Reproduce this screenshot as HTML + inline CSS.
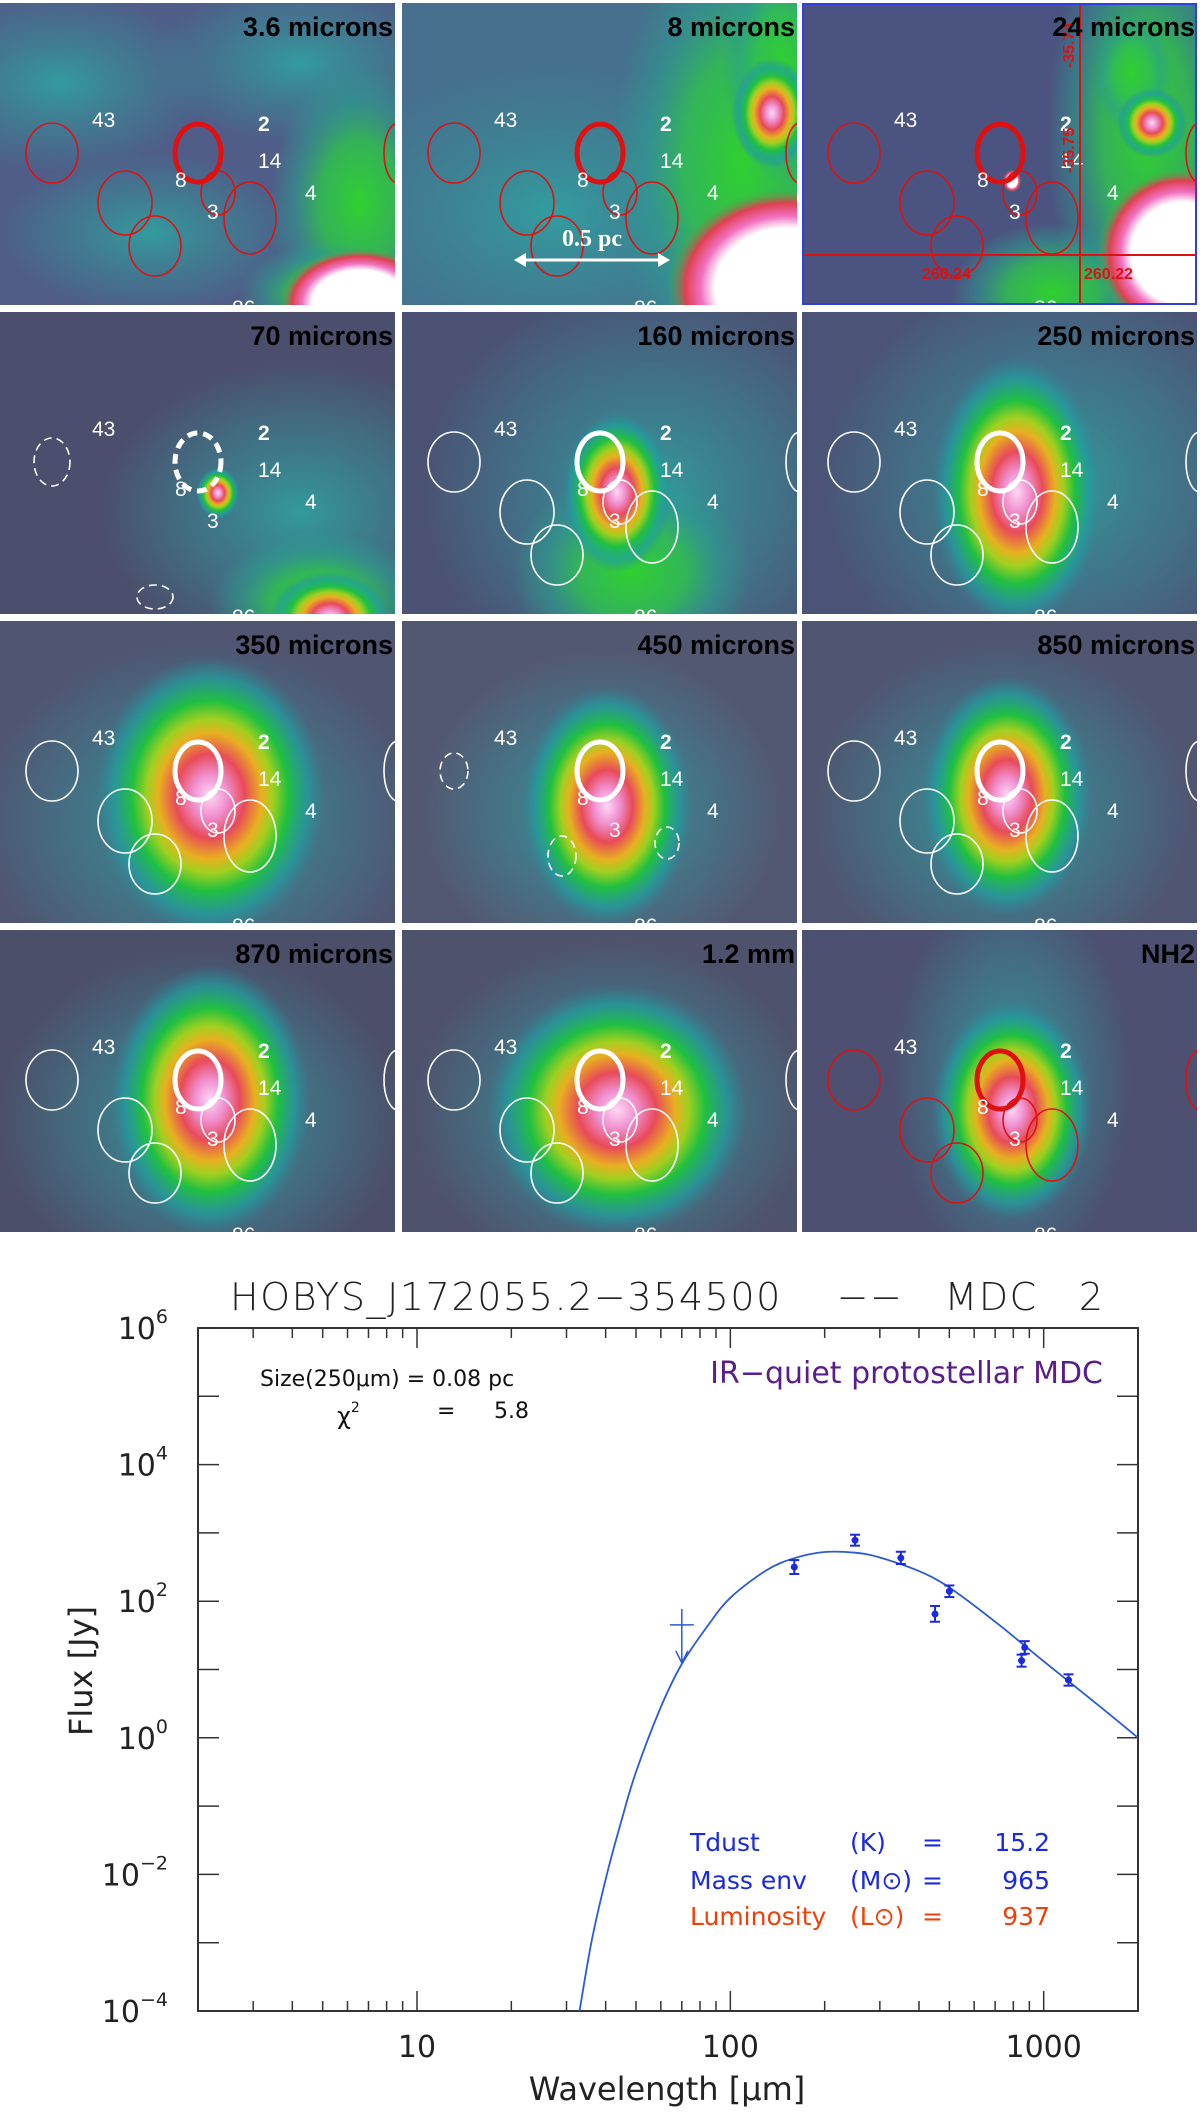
<!DOCTYPE html>
<html><head><meta charset="utf-8">
<style>
html,body{margin:0;padding:0;background:#fff;}
body{width:1200px;height:2122px;overflow:hidden;}
svg{display:block;}
text{white-space:pre;}
.pt{font-family:"Liberation Sans Narrow","Liberation Sans",sans-serif;font-weight:bold;font-size:27px;fill:#000;}
.lb{font-family:"Liberation Sans",sans-serif;fill:#fff;font-size:21px;}
.ax{font-family:"DejaVu Sans","Liberation Sans",sans-serif;}
</style></head>
<body>
<svg id="root" width="1200" height="2122" viewBox="0 0 1200 2122">
<defs>
<radialGradient id="g-teal"><stop offset="0" stop-color="#2fa3a0" stop-opacity="0.9"/><stop offset="0.6" stop-color="#3a8a96" stop-opacity="0.5"/><stop offset="1" stop-color="#3a8a96" stop-opacity="0"/></radialGradient>
<radialGradient id="g-green"><stop offset="0" stop-color="#30d030"/><stop offset="0.45" stop-color="#30c050" stop-opacity="0.85"/><stop offset="0.75" stop-color="#2aa090" stop-opacity="0.5"/><stop offset="1" stop-color="#2aa090" stop-opacity="0"/></radialGradient>
<radialGradient id="g-hot"><stop offset="0" stop-color="#ffd8f4"/><stop offset="0.15" stop-color="#f090d0"/><stop offset="0.3" stop-color="#e84a5a"/><stop offset="0.45" stop-color="#e8b020"/><stop offset="0.55" stop-color="#a0d020"/><stop offset="0.68" stop-color="#20c040"/><stop offset="0.85" stop-color="#20a0a0" stop-opacity="0.7"/><stop offset="1" stop-color="#2a8a9a" stop-opacity="0"/></radialGradient>
<radialGradient id="g-white"><stop offset="0" stop-color="#ffffff"/><stop offset="0.6" stop-color="#ffffff"/><stop offset="0.72" stop-color="#f070c0"/><stop offset="0.85" stop-color="#e04050"/><stop offset="1" stop-color="#30c040" stop-opacity="0"/></radialGradient>
</defs>
<g id="panels"></g>
<g id="chart"></g>
</svg>
<script>
// ---------- chart data ----------
const pointWavelengths = [160, 250, 350, 450, 500, 850, 870, 1200];
const pointFluxes = [316, 780, 430, 65, 140, 13.5, 21, 7];
const pointErrLow = [250, 650, 350, 50, 115, 11, 17, 5.8];
const pointErrHigh = [400, 940, 530, 85, 170, 16.5, 26, 8.5];
const upperLimitWavelengths = [70];
const upperLimitFluxes = [45];
const fitWavelengths = [33, 36, 40, 45, 50, 60, 70, 85, 100, 130, 160, 200, 250, 300, 400, 500, 700, 1000, 1500, 2000];
const fitLogFluxes = [-4.0, -3.0, -2.07, -1.2, -0.5, 0.45, 1.08, 1.65, 2.05, 2.45, 2.63, 2.72, 2.71, 2.64, 2.44, 2.2, 1.7, 1.12, 0.47, 0.0];
const xTickValues = [10, 100, 1000];
const xTickLabels = ["10", "100", "1000"];
const yTickExps = [-4, -2, 0, 2, 4, 6];

const NS = "http://www.w3.org/2000/svg";
function mk(tag, attrs, parent){const e=document.createElementNS(NS,tag);for(const k in attrs)e.setAttribute(k,attrs[k]);parent.appendChild(e);return e;}

// ---------- panels ----------
const panelTitles = ["3.6 microns","8 microns","24 microns","70 microns","160 microns","250 microns","350 microns","450 microns","850 microns","870 microns","1.2 mm","NH2"];
const panelBgs = ["#4f5d88","#46708e","#4b5480","#4b4e6c","#4b5274","#4b5476","#505571","#535872","#505571","#4c4f6a","#4f526c","#4d5070"];
const panelBlobs = [
 [["teal",60,80,150,90],["teal",300,60,150,80],["teal",150,230,150,80],["green",360,200,90,140],["green",330,290,90,50],["white",360,300,80,55]],
 [["teal",150,210,220,150],["green",340,160,130,240],["green",380,60,60,120],["hot",370,110,40,55],["white",385,285,120,100]],
 [["green",345,130,100,230],["green",250,290,100,70],["green",330,70,40,60],["hot",350,120,35,35],["white",380,250,85,85],["white",210,178,9,11]],
 [["teal",300,200,200,150],["green",320,290,110,70],["hot",330,305,60,45],["hot",218,181,22,26]],
 [["teal",250,180,230,210],["green",230,260,120,100],["hot",215,180,55,80]],
 [["teal",250,170,230,210],["hot",215,180,85,135]],
 [["teal",200,200,220,180],["hot",210,175,115,140]],
 [["teal",200,190,180,160],["hot",205,185,85,120]],
 [["teal",200,190,190,170],["hot",205,175,85,120]],
 [["teal",200,190,200,170],["hot",210,170,100,135]],
 [["teal",210,180,200,170],["hot",215,180,130,125]],
 [["teal",210,150,120,200],["hot",210,180,80,110]]
];
const colX=[0,402,802], rowY=[3,312,621,930], PW=395, PH=302;
const pg=document.getElementById('panels');
panelTitles.forEach((t,i)=>{
  const x=colX[i%3], y=rowY[Math.floor(i/3)];
  const g=mk('g',{transform:`translate(${x},${y})`},pg);
  
  
  const cp=mk('clipPath',{id:'cp'+i},g); mk('rect',{x:0,y:0,width:PW,height:PH},cp);
  const inner=mk('g',{'clip-path':`url(#cp${i})`},g);
  mk('rect',{x:0,y:0,width:PW,height:PH,fill:panelBgs[i]},inner);
  panelBlobs[i].forEach(b=>{mk('ellipse',{cx:b[1],cy:b[2],rx:b[3],ry:b[4],fill:`url(#g-${b[0]})`},inner);});
  const red=(i<3||i===11); const col=red?'#e01010':'#ffffff';
  const dash=(i===3)?'8 5':'none';
  let ells=[[52,150,26,30],[125,200,27,32],[155,243,26,30],[218,190,17,22],[250,215,26,36],[398,150,14,30]];
  if(i===3) ells=[[52,150,18,24],[155,285,18,12]];
  if(i===7) ells=[[52,150,14,18],[160,235,14,20],[265,222,12,16]];
  ells.forEach(e=>{const el=mk('ellipse',{cx:e[0],cy:e[1],rx:e[2],ry:e[3],fill:'none',stroke:col,'stroke-width':1.6,'stroke-dasharray':(i===3||i===7)?'8 5':dash},inner);
    
    });
  const th=mk('ellipse',{cx:198,cy:150,rx:23,ry:29,fill:'none',stroke:col,'stroke-width':5,'stroke-dasharray':i===3?'10 6':'none'},inner);
  
  
  [["43",92,124,21,"normal"],["2",258,128,30,"bold"],["14",258,165,21,"normal"],["4",305,197,21,"normal"],["8",175,184,19,"normal"],["3",207,216,19,"normal"],["86",232,312,20,"normal"]].forEach(l=>{
    const tx=mk('text',{x:l[1],y:l[2],class:'lb','font-size':l[3],'font-weight':l[4]},inner); tx.textContent=l[0];
    
    });
  if(i===2){
    mk('line',{x1:278,y1:0,x2:278,y2:PH,stroke:'#e01010','stroke-width':2},inner);
    mk('line',{x1:0,y1:252,x2:PW,y2:252,stroke:'#e01010','stroke-width':2},inner);
    const a=mk('text',{x:120,y:276,fill:'#e01010','font-size':16,'font-weight':'bold','font-family':'Liberation Sans Narrow, Liberation Sans, sans-serif'},inner);a.textContent='260.24';
    const b=mk('text',{x:282,y:276,fill:'#e01010','font-size':16,'font-weight':'bold','font-family':'Liberation Sans Narrow, Liberation Sans, sans-serif'},inner);b.textContent='260.22';
    const c=mk('text',{x:0,y:0,fill:'#e01010','font-size':16,'font-weight':'bold','font-family':'Liberation Sans Narrow, Liberation Sans, sans-serif',transform:'translate(272,65) rotate(-90)'},inner);c.textContent='-35.74';
    const d=mk('text',{x:0,y:0,fill:'#e01010','font-size':16,'font-weight':'bold','font-family':'Liberation Sans Narrow, Liberation Sans, sans-serif',transform:'translate(272,170) rotate(-90)'},inner);d.textContent='-35.75';
    mk('rect',{x:1,y:1,width:PW-2,height:PH-2,fill:'none',stroke:'#3040e0','stroke-width':2},inner);
  }
  if(i===1){
    mk('line',{x1:120,y1:257,x2:260,y2:257,stroke:'#fff','stroke-width':3},inner);
    mk('path',{d:'M112,257 l12,-7 v14 z M268,257 l-12,-7 v14 z',fill:'#fff'},inner);
    const s=mk('text',{x:190,y:243,fill:'#fff','font-size':24,'font-weight':'bold','font-family':'Liberation Serif, serif','text-anchor':'middle'},inner);s.textContent='0.5 pc';
    
    
  }
  const tt=mk('text',{x:PW-2,y:33,class:'pt','text-anchor':'end'},inner); tt.textContent=t;
  
  
});

// ---------- chart ----------
const L=198,R=1138,T=1328,B=2011;
const xLo=Math.log10(2), xHi=Math.log10(2000), yLo=-4, yHi=6;
const xs=v=>L+(Math.log10(v)-xLo)/(xHi-xLo)*(R-L);
const ysLog=lv=>B-(lv-yLo)/(yHi-yLo)*(B-T);
const ys=v=>ysLog(Math.log10(v));
const cg=document.getElementById('chart');
const ax=mk('g',{},cg);


mk('rect',{x:L,y:T,width:R-L,height:B-T,fill:'none',stroke:'#333','stroke-width':2},ax);
for(let d=0;d<=3;d++){for(let m=1;m<=9;m++){const v=m*Math.pow(10,d);if(v<2||v>2000)continue;const X=xs(v);const len=(m===1)?20:10;
  mk('line',{x1:X,y1:B,x2:X,y2:B-len,stroke:'#333','stroke-width':1.5},ax);
  mk('line',{x1:X,y1:T,x2:X,y2:T+len,stroke:'#333','stroke-width':1.5},ax);}}
xTickValues.forEach((v,k)=>{const t=mk('text',{x:xs(v),y:2057,'text-anchor':'middle','font-size':30,fill:'#222',class:'ax'},ax);t.textContent=xTickLabels[k];
  
  });
for(let e=yLo;e<=yHi;e++){const Y=ysLog(e);
  mk('line',{x1:L,y1:Y,x2:L+21,y2:Y,stroke:'#333','stroke-width':1.5},ax);
  mk('line',{x1:R,y1:Y,x2:R-21,y2:Y,stroke:'#333','stroke-width':1.5},ax);}
yTickExps.forEach(e=>{const Y=ysLog(e);const t=mk('text',{x:168,y:Y+11,'text-anchor':'end','font-size':30,fill:'#222',class:'ax'},ax);
  t.textContent='10';const s=mk('tspan',{dy:-16,'font-size':19},t);s.textContent=(e<0?'\u2212':'')+Math.abs(e);
  
  });
const xt=mk('text',{x:667,y:2100,'text-anchor':'middle','font-size':32,fill:'#222',class:'ax'},cg);xt.textContent='Wavelength [\u03bcm]';


const yt=mk('text',{x:0,y:0,'text-anchor':'middle','font-size':32,fill:'#222',class:'ax',transform:'translate(92,1671) rotate(-90)'},cg);yt.textContent='Flux [Jy]';


const ti=mk('text',{x:230,y:1310,'font-size':38,fill:'#222',class:'ax','font-weight':'200',textLength:873,lengthAdjust:'spacing'},cg);ti.textContent='HOBYS_J172055.2\u2212354500    \u2212\u2212   MDC   2';


function ann(x,y,txt,col,size,name,anchor){const t=mk('text',{x:x,y:y,'font-size':size,fill:col,class:'ax','text-anchor':anchor||'start'},cg);t.textContent=txt;
  
  return t;}
ann(260,1386,'Size(250\u03bcm) = 0.08 pc','#111',22,'size-annotation');
const ch=ann(337,1424,'\u03c7','#111',24,'chi2-annotation');const cs=mk('tspan',{dy:-12,'font-size':14},ch);cs.textContent='2';
ann(437,1418,'=','#111',22,'chi2-equals');ann(494,1418,'5.8','#111',22,'chi2-value');
ann(1103,1383,'IR\u2212quiet protostellar MDC','#5a1e8c',30,'classification-label','end');
const rows=[['Tdust','(K)','15.2','#1a2ae0',1851,'tdust'],['Mass env','(M\u2299)','965','#1a2ae0',1889,'mass'],['Luminosity','(L\u2299)','937','#f0400a',1925,'luminosity']];
rows.forEach(r=>{ann(690,r[4],r[0],r[3],25,r[5]+'-label');ann(850,r[4],r[1],r[3],25,r[5]+'-unit');ann(922,r[4],'=',r[3],25,r[5]+'-equals');ann(1050,r[4],r[2],r[3],25,r[5]+'-value','end');});
// fit curve (Catmull-Rom smoothing through sampled points)
const cp2=mk('clipPath',{id:'plotclip'},cg);mk('rect',{x:L,y:T,width:R-L,height:B-T},cp2);
const P=fitWavelengths.map((w,k)=>[xs(w),ysLog(fitLogFluxes[k])]);
let d='M'+P[0][0].toFixed(1)+','+P[0][1].toFixed(1);
for(let k=0;k<P.length-1;k++){const p0=P[Math.max(0,k-1)],p1=P[k],p2=P[k+1],p3=P[Math.min(P.length-1,k+2)];
  const c1=[p1[0]+(p2[0]-p0[0])/6,p1[1]+(p2[1]-p0[1])/6],c2=[p2[0]-(p3[0]-p1[0])/6,p2[1]-(p3[1]-p1[1])/6];
  d+=`C${c1[0].toFixed(1)},${c1[1].toFixed(1)} ${c2[0].toFixed(1)},${c2[1].toFixed(1)} ${p2[0].toFixed(1)},${p2[1].toFixed(1)}`;}
const fit=mk('path',{d:d,fill:'none',stroke:'#2a5ad8','stroke-width':1.8,'stroke-linejoin':'round','clip-path':'url(#plotclip)'},cg);


pointWavelengths.forEach((w,k)=>{const X=xs(w),Y=ys(pointFluxes[k]),Y1=ys(pointErrLow[k]),Y2=ys(pointErrHigh[k]);
  const g=mk('g',{stroke:'#1a2ae0','stroke-width':2,fill:'#1a2ae0'},cg);
  
  
  mk('line',{x1:X,y1:Y1,x2:X,y2:Y2},g);mk('line',{x1:X-5,y1:Y1,x2:X+5,y2:Y1},g);mk('line',{x1:X-5,y1:Y2,x2:X+5,y2:Y2},g);
  mk('circle',{cx:X,cy:Y,r:3.5,stroke:'none'},g);});
upperLimitWavelengths.forEach((w,k)=>{const X=xs(w),Y=ys(upperLimitFluxes[k]);
  const g=mk('g',{stroke:'#2a5ad8','stroke-width':1.5,fill:'none'},cg);
  
  
  mk('line',{x1:X-12,y1:Y,x2:X+12,y2:Y},g);mk('line',{x1:X,y1:Y-16,x2:X,y2:Y+38},g);
  mk('path',{d:`M${X-6},${Y+26} L${X},${Y+38} L${X+6},${Y+26}`},g);});
</script>
</body></html>
